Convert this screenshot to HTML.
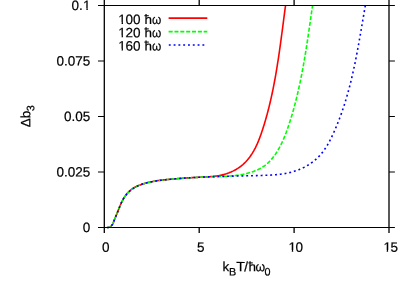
<!DOCTYPE html>
<html><head><meta charset="utf-8"><title>plot</title>
<style>
html,body{margin:0;padding:0;background:#fff;}
body{width:415px;height:290px;overflow:hidden;font-family:"Liberation Sans",sans-serif;}
svg{display:block;will-change:transform;}
text{font-family:"Liberation Sans",sans-serif;font-size:13.5px;fill:#000;stroke:#000;stroke-width:0.2px;}
</style></head><body>
<svg width="415" height="290" viewBox="0 0 415 290">
<rect width="415" height="290" fill="#fff"/>
<defs><clipPath id="plotclip"><rect x="104" y="5.5" width="285" height="223.5"/></clipPath></defs>
<g fill="none" stroke-width="1.6" stroke-linejoin="round" clip-path="url(#plotclip)">
<path d="M106.85,227.57 L107.94,227.51 L108.96,227.29 L109.88,226.92 L110.70,226.41 L111.42,225.77 L112.05,225.03 L112.58,224.21 L113.03,223.33 L113.42,222.40 L113.78,221.45 L114.13,220.49 L114.50,219.55 L114.88,218.61 L115.26,217.69 L115.65,216.77 L116.04,215.85 L116.42,214.93 L116.80,214.01 L117.17,213.09 L117.54,212.16 L117.90,211.23 L118.27,210.30 L118.63,209.37 L119.00,208.44 L119.37,207.51 L119.74,206.59 L120.13,205.67 L120.52,204.75 L120.92,203.84 L121.34,202.93 L121.77,202.03 L122.21,201.13 L122.68,200.25 L123.16,199.37 L123.66,198.50 L124.18,197.65 L124.73,196.80 L125.30,195.97 L125.89,195.15 L126.51,194.35 L127.15,193.57 L127.81,192.82 L128.50,192.08 L129.21,191.38 L129.95,190.70 L130.71,190.05 L131.49,189.43 L132.30,188.85 L133.13,188.30 L133.98,187.79 L134.86,187.30 L135.75,186.84 L136.65,186.41 L137.57,186.00 L138.49,185.62 L139.42,185.25 L140.36,184.90 L141.31,184.56 L142.25,184.23 L143.20,183.92 L144.16,183.63 L145.11,183.34 L146.07,183.07 L147.04,182.82 L148.00,182.57 L148.97,182.33 L149.94,182.11 L150.92,181.90 L151.90,181.69 L152.87,181.50 L153.86,181.31 L154.84,181.14 L155.82,180.97 L156.81,180.81 L157.80,180.66 L158.79,180.52 L159.78,180.38 L160.77,180.25 L161.77,180.12 L162.76,180.01 L163.76,179.89 L164.76,179.78 L165.75,179.68 L166.75,179.58 L167.75,179.48 L168.75,179.39 L169.75,179.29 L170.74,179.21 L171.74,179.12 L172.74,179.03 L173.74,178.95 L174.73,178.87 L175.73,178.78 L176.73,178.70 L177.72,178.63 L178.72,178.55 L179.72,178.47 L180.71,178.40 L181.71,178.33 L182.70,178.25 L183.70,178.18 L184.70,178.12 L185.69,178.05 L186.69,177.98 L187.68,177.92 L188.68,177.85 L189.68,177.79 L190.67,177.73 L191.67,177.67 L192.67,177.62 L193.67,177.56 L194.66,177.51 L195.66,177.45 L196.66,177.40 L197.66,177.35 L198.66,177.30 L199.66,177.25 L200.66,177.21 L201.66,177.16 L202.66,177.12 L203.66,177.07 L204.67,177.02 L205.67,176.97 L206.67,176.92 L207.67,176.86 L208.67,176.80 L209.67,176.73 L210.67,176.65 L211.66,176.57 L212.66,176.47 L213.65,176.37 L214.64,176.26 L215.63,176.13 L216.62,176.00 L217.61,175.85 L218.59,175.68 L219.58,175.50 L220.55,175.31 L221.53,175.10 L222.50,174.87 L223.48,174.62 L224.44,174.36 L225.41,174.07 L226.36,173.77 L227.32,173.44 L228.27,173.10 L229.21,172.74 L230.14,172.36 L231.07,171.97 L231.99,171.55 L232.90,171.12 L233.80,170.66 L234.69,170.19 L235.58,169.70 L236.45,169.20 L237.30,168.67 L238.15,168.13 L238.98,167.57 L239.80,167.00 L240.61,166.40 L241.40,165.79 L242.18,165.16 L242.94,164.52 L243.68,163.85 L244.40,163.17 L245.11,162.48 L245.81,161.77 L246.48,161.04 L247.15,160.30 L247.79,159.54 L248.42,158.77 L249.04,157.99 L249.64,157.20 L250.22,156.39 L250.79,155.57 L251.35,154.75 L251.90,153.91 L252.43,153.06 L252.95,152.20 L253.45,151.34 L253.95,150.47 L254.43,149.59 L254.90,148.70 L255.36,147.81 L255.80,146.91 L256.24,146.01 L256.66,145.11 L257.08,144.19 L257.49,143.28 L257.88,142.36 L258.27,141.44 L258.65,140.51 L259.02,139.58 L259.38,138.65 L259.74,137.72 L260.09,136.78 L260.43,135.84 L260.77,134.90 L261.10,133.95 L261.43,133.01 L261.75,132.06 L262.07,131.11 L262.38,130.16 L262.69,129.21 L263.00,128.26 L263.31,127.30 L263.61,126.35 L263.90,125.40 L264.20,124.44 L264.49,123.48 L264.78,122.53 L265.06,121.57 L265.34,120.61 L265.62,119.65 L265.90,118.69 L266.17,117.73 L266.44,116.77 L266.71,115.81 L266.97,114.84 L267.24,113.88 L267.49,112.91 L267.75,111.95 L268.00,110.98 L268.25,110.02 L268.50,109.05 L268.75,108.08 L268.99,107.11 L269.23,106.14 L269.47,105.17 L269.70,104.20 L269.93,103.23 L270.16,102.26 L270.39,101.29 L270.62,100.31 L270.84,99.34 L271.06,98.37 L271.28,97.39 L271.49,96.41 L271.71,95.44 L271.92,94.46 L272.13,93.49 L272.33,92.51 L272.54,91.53 L272.74,90.55 L272.94,89.57 L273.14,88.59 L273.34,87.61 L273.53,86.63 L273.72,85.65 L273.91,84.67 L274.10,83.69 L274.29,82.71 L274.47,81.72 L274.66,80.74 L274.84,79.76 L275.02,78.77 L275.20,77.79 L275.37,76.80 L275.55,75.82 L275.72,74.83 L275.89,73.85 L276.06,72.86 L276.23,71.87 L276.39,70.89 L276.56,69.90 L276.72,68.91 L276.88,67.93 L277.05,66.94 L277.21,65.95 L277.36,64.96 L277.52,63.97 L277.68,62.98 L277.83,61.99 L277.98,61.00 L278.13,60.01 L278.29,59.03 L278.44,58.04 L278.58,57.04 L278.73,56.05 L278.88,55.06 L279.02,54.07 L279.17,53.08 L279.31,52.09 L279.45,51.10 L279.59,50.11 L279.74,49.12 L279.88,48.13 L280.01,47.13 L280.15,46.14 L280.29,45.15 L280.43,44.16 L280.56,43.17 L280.70,42.17 L280.83,41.18 L280.97,40.19 L281.10,39.20 L281.24,38.21 L281.37,37.21 L281.50,36.22 L281.63,35.23 L281.76,34.24 L281.90,33.25 L282.03,32.25 L282.16,31.26 L282.29,30.27 L282.42,29.28 L282.55,28.29 L282.68,27.29 L282.81,26.30 L282.94,25.31 L283.06,24.32 L283.19,23.33 L283.32,22.34 L283.45,21.35 L283.58,20.36 L283.71,19.37 L283.84,18.38 L283.97,17.39 L284.10,16.40 L284.23,15.41 L284.36,14.42 L284.49,13.43 L284.62,12.44 L284.75,11.45 L284.88,10.46 L285.01,9.47 L285.14,8.48 L285.27,7.50 L285.40,6.51 L285.54,5.52 L285.67,4.53 L285.80,3.55 L285.94,2.56 L286.07,1.57 L286.15,1.03" stroke="#ff0000"/>
<path d="M106.84,227.56 L107.94,227.51 L108.96,227.30 L109.90,226.94 L110.73,226.43 L111.44,225.78 L112.02,225.02 L112.51,224.17 L112.95,223.27 L113.36,222.35 L113.77,221.43 L114.17,220.51 L114.56,219.58 L114.94,218.65 L115.32,217.73 L115.69,216.80 L116.06,215.87 L116.43,214.94 L116.79,214.01 L117.15,213.08 L117.52,212.15 L117.88,211.22 L118.24,210.29 L118.61,209.36 L118.98,208.43 L119.35,207.51 L119.74,206.58 L120.13,205.66 L120.53,204.74 L120.94,203.83 L121.36,202.91 L121.79,202.01 L122.24,201.11 L122.71,200.22 L123.19,199.35 L123.69,198.48 L124.21,197.63 L124.75,196.79 L125.31,195.96 L125.89,195.16 L126.50,194.37 L127.14,193.60 L127.80,192.86 L128.49,192.14 L129.20,191.44 L129.94,190.76 L130.71,190.11 L131.50,189.49 L132.31,188.89 L133.14,188.32 L133.99,187.78 L134.86,187.27 L135.74,186.79 L136.63,186.34 L137.54,185.92 L138.46,185.53 L139.40,185.16 L140.33,184.82 L141.28,184.50 L142.24,184.19 L143.19,183.90 L144.15,183.62 L145.12,183.35 L146.08,183.09 L147.05,182.85 L148.02,182.61 L148.99,182.38 L149.97,182.16 L150.94,181.95 L151.92,181.75 L152.90,181.55 L153.88,181.36 L154.86,181.19 L155.84,181.01 L156.83,180.85 L157.81,180.69 L158.80,180.54 L159.79,180.40 L160.78,180.26 L161.77,180.13 L162.76,180.00 L163.75,179.88 L164.75,179.77 L165.74,179.66 L166.74,179.55 L167.73,179.45 L168.73,179.35 L169.73,179.26 L170.72,179.17 L171.72,179.08 L172.72,178.99 L173.72,178.91 L174.72,178.83 L175.71,178.76 L176.71,178.68 L177.71,178.61 L178.71,178.54 L179.71,178.47 L180.71,178.40 L181.71,178.33 L182.71,178.26 L183.70,178.19 L184.70,178.13 L185.70,178.06 L186.70,178.00 L187.70,177.93 L188.69,177.87 L189.69,177.81 L190.69,177.75 L191.69,177.69 L192.68,177.63 L193.68,177.57 L194.68,177.52 L195.68,177.46 L196.67,177.41 L197.67,177.36 L198.67,177.31 L199.67,177.26 L200.66,177.21 L201.66,177.16 L202.66,177.12 L203.66,177.07 L204.66,177.03 L205.66,176.99 L206.65,176.95 L207.65,176.91 L208.65,176.87 L209.65,176.83 L210.65,176.80 L211.65,176.77 L212.65,176.73 L213.65,176.70 L214.65,176.67 L215.65,176.65 L216.65,176.62 L217.65,176.59 L218.65,176.56 L219.66,176.53 L220.66,176.49 L221.66,176.46 L222.66,176.42 L223.66,176.38 L224.66,176.33 L225.66,176.29 L226.65,176.23 L227.65,176.18 L228.65,176.11 L229.65,176.04 L230.64,175.97 L231.64,175.89 L232.63,175.80 L233.63,175.71 L234.62,175.60 L235.61,175.49 L236.61,175.37 L237.60,175.24 L238.59,175.10 L239.57,174.95 L240.56,174.79 L241.55,174.62 L242.53,174.44 L243.51,174.25 L244.50,174.04 L245.48,173.83 L246.46,173.60 L247.43,173.35 L248.41,173.09 L249.38,172.82 L250.34,172.53 L251.31,172.23 L252.26,171.92 L253.21,171.58 L254.16,171.23 L255.09,170.87 L256.02,170.49 L256.94,170.09 L257.84,169.67 L258.74,169.23 L259.63,168.78 L260.50,168.31 L261.36,167.82 L262.21,167.31 L263.05,166.78 L263.87,166.23 L264.67,165.66 L265.46,165.07 L266.23,164.45 L266.99,163.82 L267.73,163.17 L268.46,162.50 L269.16,161.81 L269.86,161.10 L270.54,160.38 L271.21,159.64 L271.86,158.89 L272.50,158.12 L273.12,157.34 L273.73,156.55 L274.33,155.74 L274.91,154.92 L275.49,154.10 L276.05,153.26 L276.59,152.41 L277.13,151.55 L277.66,150.69 L278.17,149.82 L278.67,148.94 L279.16,148.06 L279.65,147.17 L280.12,146.27 L280.58,145.38 L281.03,144.48 L281.47,143.57 L281.91,142.67 L282.33,141.76 L282.75,140.84 L283.16,139.93 L283.56,139.01 L283.95,138.09 L284.34,137.17 L284.72,136.24 L285.09,135.31 L285.45,134.38 L285.81,133.45 L286.17,132.52 L286.51,131.58 L286.86,130.64 L287.19,129.70 L287.52,128.76 L287.85,127.82 L288.18,126.87 L288.50,125.93 L288.81,124.98 L289.12,124.03 L289.43,123.08 L289.74,122.13 L290.04,121.18 L290.34,120.23 L290.64,119.28 L290.93,118.33 L291.23,117.37 L291.52,116.42 L291.80,115.46 L292.09,114.51 L292.37,113.55 L292.64,112.59 L292.92,111.63 L293.19,110.67 L293.46,109.71 L293.73,108.75 L293.99,107.79 L294.26,106.82 L294.51,105.86 L294.77,104.90 L295.03,103.93 L295.28,102.96 L295.53,102.00 L295.78,101.03 L296.02,100.06 L296.26,99.09 L296.50,98.13 L296.74,97.16 L296.98,96.19 L297.21,95.21 L297.44,94.24 L297.67,93.27 L297.90,92.30 L298.12,91.32 L298.34,90.35 L298.57,89.38 L298.78,88.40 L299.00,87.42 L299.21,86.45 L299.43,85.47 L299.64,84.49 L299.85,83.52 L300.05,82.54 L300.26,81.56 L300.46,80.58 L300.66,79.60 L300.86,78.62 L301.06,77.64 L301.26,76.66 L301.45,75.68 L301.64,74.69 L301.83,73.71 L302.02,72.73 L302.21,71.75 L302.40,70.76 L302.58,69.78 L302.76,68.80 L302.94,67.81 L303.12,66.83 L303.30,65.84 L303.48,64.86 L303.66,63.87 L303.83,62.88 L304.00,61.90 L304.18,60.91 L304.35,59.92 L304.51,58.94 L304.68,57.95 L304.85,56.96 L305.02,55.97 L305.18,54.99 L305.34,54.00 L305.51,53.01 L305.67,52.02 L305.83,51.03 L305.99,50.04 L306.14,49.05 L306.30,48.06 L306.46,47.08 L306.61,46.09 L306.77,45.10 L306.92,44.11 L307.07,43.12 L307.23,42.13 L307.38,41.14 L307.53,40.15 L307.68,39.16 L307.83,38.17 L307.97,37.18 L308.12,36.19 L308.27,35.20 L308.42,34.21 L308.56,33.22 L308.71,32.23 L308.85,31.24 L309.00,30.25 L309.14,29.26 L309.28,28.27 L309.43,27.28 L309.57,26.29 L309.71,25.30 L309.85,24.31 L310.00,23.32 L310.14,22.33 L310.28,21.34 L310.42,20.35 L310.56,19.36 L310.70,18.38 L310.84,17.39 L310.98,16.40 L311.12,15.41 L311.26,14.42 L311.40,13.44 L311.54,12.45 L311.68,11.46 L311.82,10.47 L311.96,9.49 L312.10,8.50 L312.25,7.51 L312.39,6.53 L312.53,5.54 L312.67,4.56 L312.81,3.57 L312.95,2.59 L313.09,1.60 L313.17,1.04" stroke="#00ff00" stroke-dasharray="4.05 1.8"/>
<path d="M106.83,227.57 L107.96,227.52 L108.99,227.29 L109.91,226.92 L110.72,226.40 L111.42,225.77 L112.02,225.03 L112.54,224.21 L112.99,223.33 L113.40,222.40 L113.78,221.45 L114.14,220.49 L114.51,219.54 L114.89,218.61 L115.27,217.68 L115.66,216.76 L116.04,215.85 L116.43,214.94 L116.81,214.03 L117.19,213.11 L117.56,212.19 L117.92,211.26 L118.28,210.33 L118.64,209.39 L119.00,208.45 L119.37,207.51 L119.73,206.57 L120.11,205.63 L120.49,204.70 L120.88,203.77 L121.29,202.85 L121.71,201.94 L122.15,201.04 L122.61,200.15 L123.09,199.27 L123.60,198.41 L124.13,197.57 L124.68,196.74 L125.27,195.93 L125.88,195.14 L126.51,194.37 L127.17,193.61 L127.85,192.88 L128.55,192.17 L129.28,191.49 L130.02,190.82 L130.79,190.18 L131.57,189.56 L132.38,188.97 L133.20,188.40 L134.03,187.85 L134.89,187.34 L135.75,186.85 L136.64,186.38 L137.53,185.95 L138.44,185.53 L139.36,185.15 L140.29,184.78 L141.23,184.44 L142.18,184.12 L143.13,183.81 L144.09,183.53 L145.06,183.25 L146.03,183.00 L147.01,182.75 L147.98,182.52 L148.96,182.30 L149.94,182.09 L150.93,181.89 L151.91,181.69 L152.89,181.51 L153.88,181.34 L154.87,181.17 L155.85,181.01 L156.84,180.86 L157.83,180.71 L158.82,180.57 L159.81,180.44 L160.81,180.31 L161.80,180.19 L162.79,180.07 L163.78,179.95 L164.78,179.84 L165.77,179.74 L166.77,179.63 L167.76,179.53 L168.76,179.43 L169.75,179.34 L170.75,179.24 L171.74,179.15 L172.74,179.06 L173.74,178.97 L174.73,178.88 L175.73,178.80 L176.72,178.71 L177.72,178.63 L178.72,178.55 L179.71,178.47 L180.71,178.40 L181.70,178.32 L182.70,178.25 L183.70,178.18 L184.70,178.11 L185.69,178.04 L186.69,177.97 L187.69,177.91 L188.68,177.84 L189.68,177.78 L190.68,177.72 L191.68,177.66 L192.67,177.61 L193.67,177.55 L194.67,177.49 L195.67,177.44 L196.67,177.39 L197.66,177.34 L198.66,177.29 L199.66,177.24 L200.66,177.19 L201.66,177.15 L202.66,177.10 L203.65,177.06 L204.65,177.01 L205.65,176.97 L206.65,176.93 L207.65,176.89 L208.65,176.85 L209.65,176.81 L210.65,176.78 L211.65,176.74 L212.65,176.71 L213.64,176.67 L214.64,176.64 L215.64,176.60 L216.64,176.57 L217.64,176.54 L218.64,176.51 L219.64,176.48 L220.64,176.45 L221.64,176.42 L222.64,176.39 L223.64,176.37 L224.64,176.34 L225.64,176.31 L226.64,176.29 L227.64,176.26 L228.64,176.23 L229.64,176.21 L230.64,176.18 L231.64,176.16 L232.64,176.14 L233.64,176.11 L234.64,176.09 L235.64,176.07 L236.64,176.04 L237.64,176.02 L238.64,176.00 L239.65,175.97 L240.65,175.95 L241.65,175.93 L242.65,175.91 L243.65,175.88 L244.65,175.86 L245.65,175.84 L246.65,175.82 L247.65,175.79 L248.65,175.77 L249.65,175.75 L250.65,175.72 L251.65,175.70 L252.65,175.68 L253.65,175.65 L254.66,175.63 L255.66,175.60 L256.66,175.58 L257.66,175.55 L258.66,175.53 L259.66,175.50 L260.66,175.47 L261.66,175.45 L262.66,175.42 L263.66,175.39 L264.66,175.35 L265.66,175.32 L266.66,175.28 L267.66,175.24 L268.66,175.20 L269.66,175.15 L270.65,175.09 L271.65,175.03 L272.64,174.97 L273.64,174.90 L274.63,174.83 L275.62,174.74 L276.61,174.65 L277.60,174.56 L278.59,174.45 L279.57,174.34 L280.56,174.22 L281.54,174.08 L282.52,173.94 L283.50,173.79 L284.47,173.63 L285.45,173.46 L286.42,173.27 L287.39,173.08 L288.36,172.87 L289.33,172.65 L290.29,172.42 L291.25,172.17 L292.21,171.91 L293.17,171.64 L294.12,171.35 L295.07,171.04 L296.02,170.72 L296.96,170.39 L297.90,170.04 L298.83,169.67 L299.76,169.29 L300.69,168.90 L301.61,168.49 L302.52,168.06 L303.43,167.62 L304.33,167.17 L305.22,166.70 L306.10,166.22 L306.98,165.72 L307.85,165.21 L308.71,164.68 L309.55,164.14 L310.39,163.59 L311.22,163.02 L312.04,162.44 L312.84,161.84 L313.64,161.23 L314.42,160.60 L315.19,159.96 L315.94,159.31 L316.68,158.64 L317.41,157.97 L318.13,157.27 L318.83,156.56 L319.51,155.84 L320.18,155.11 L320.83,154.37 L321.47,153.61 L322.10,152.84 L322.71,152.06 L323.31,151.26 L323.90,150.46 L324.47,149.65 L325.04,148.83 L325.59,147.99 L326.13,147.15 L326.66,146.31 L327.18,145.45 L327.69,144.59 L328.19,143.72 L328.68,142.84 L329.16,141.96 L329.63,141.07 L330.10,140.17 L330.56,139.27 L331.01,138.37 L331.45,137.47 L331.89,136.56 L332.32,135.64 L332.75,134.73 L333.17,133.81 L333.58,132.89 L333.99,131.97 L334.40,131.05 L334.81,130.13 L335.21,129.20 L335.60,128.28 L335.99,127.35 L336.38,126.43 L336.77,125.50 L337.15,124.58 L337.52,123.65 L337.89,122.72 L338.26,121.79 L338.63,120.86 L338.99,119.93 L339.35,118.99 L339.70,118.06 L340.05,117.13 L340.40,116.19 L340.74,115.25 L341.08,114.32 L341.42,113.38 L341.75,112.44 L342.08,111.50 L342.41,110.55 L342.73,109.61 L343.05,108.67 L343.37,107.72 L343.68,106.78 L343.99,105.83 L344.30,104.88 L344.60,103.93 L344.90,102.98 L345.20,102.03 L345.49,101.07 L345.78,100.12 L346.07,99.17 L346.36,98.21 L346.64,97.25 L346.92,96.30 L347.19,95.34 L347.47,94.38 L347.74,93.42 L348.01,92.46 L348.27,91.50 L348.53,90.53 L348.79,89.57 L349.05,88.61 L349.30,87.64 L349.56,86.68 L349.81,85.71 L350.05,84.74 L350.30,83.77 L350.54,82.80 L350.78,81.83 L351.02,80.86 L351.26,79.89 L351.49,78.92 L351.72,77.95 L351.95,76.98 L352.18,76.00 L352.40,75.03 L352.62,74.06 L352.85,73.08 L353.06,72.10 L353.28,71.13 L353.50,70.15 L353.71,69.17 L353.92,68.20 L354.13,67.22 L354.34,66.24 L354.55,65.26 L354.75,64.28 L354.95,63.30 L355.15,62.32 L355.35,61.34 L355.55,60.36 L355.75,59.38 L355.95,58.39 L356.14,57.41 L356.33,56.43 L356.52,55.45 L356.71,54.46 L356.90,53.48 L357.09,52.50 L357.28,51.51 L357.46,50.53 L357.64,49.54 L357.83,48.56 L358.01,47.57 L358.19,46.59 L358.37,45.60 L358.55,44.62 L358.73,43.63 L358.91,42.65 L359.08,41.66 L359.26,40.67 L359.43,39.69 L359.61,38.70 L359.78,37.72 L359.95,36.73 L360.13,35.75 L360.30,34.76 L360.47,33.77 L360.64,32.79 L360.81,31.80 L360.98,30.82 L361.15,29.83 L361.32,28.84 L361.49,27.86 L361.66,26.87 L361.82,25.89 L361.99,24.90 L362.16,23.92 L362.33,22.93 L362.50,21.95 L362.67,20.96 L362.83,19.98 L363.00,19.00 L363.17,18.01 L363.34,17.03 L363.51,16.05 L363.67,15.06 L363.84,14.08 L364.01,13.10 L364.18,12.12 L364.35,11.14 L364.52,10.15 L364.69,9.17 L364.86,8.19 L365.03,7.21 L365.20,6.23 L365.38,5.26 L365.55,4.28 L365.72,3.30 L365.90,2.32 L366.07,1.34 L366.12,1.06" stroke="#0000ff" stroke-dasharray="1.9 2.9" stroke-dashoffset="-0.5"/>
</g>
<g fill="none" stroke-width="1.6">
<path d="M168.6,18.1 H207.3" stroke="#ff0000"/>
<path d="M168.6,31.65 H207.3" stroke="#00ff00" stroke-dasharray="4.05 1.8"/>
<path d="M168.8,45.05 H205" stroke="#0000ff" stroke-dasharray="1.9 2.9"/>
</g>
<g fill="none" stroke="#000">
<path d="M104.3,0 V233.1 M389.0,0 V233.1 M199.20,227.5 v5.6 M199.20,5.5 V0 M294.10,227.5 v5.6 M294.10,5.5 V0" stroke-width="1.3"/>
<path d="M98.0,5.5 H394.9 M98.0,227.5 H394.9 M104.3,172.00 h-6.3 M389.0,172.00 h5.9 M104.3,116.50 h-6.3 M389.0,116.50 h5.9 M104.3,61.00 h-6.3 M389.0,61.00 h5.9" stroke-width="1.0"/>
</g>
<text transform="translate(82.69,232.00) rotate(0.03) scale(1,1.0)">0</text>
<text transform="translate(56.42,176.50) rotate(0.03) scale(1,1.0)">0.025</text>
<text transform="translate(63.93,121.00) rotate(0.03) scale(1,1.0)">0.05</text>
<text transform="translate(56.42,65.50) rotate(0.03) scale(1,1.0)">0.075</text>
<text transform="translate(71.43,10.00) rotate(0.03) scale(1,1.0)">0.</text>
<text transform="translate(83.09,10.00) rotate(0.03) scale(1,1.0)">1</text>
<text transform="translate(102.05,251.70) rotate(0.03) scale(1,1.0)">0</text>
<text transform="translate(196.95,251.70) rotate(0.03) scale(1,1.0)">5</text>
<text transform="translate(288.49,251.70) rotate(0.03) scale(1,1.0)">1</text>
<text transform="translate(295.60,251.70) rotate(0.03) scale(1,1.0)">0</text>
<text transform="translate(383.39,251.70) rotate(0.03) scale(1,1.0)">1</text>
<text transform="translate(390.50,251.70) rotate(0.03) scale(1,1.0)">5</text>
<text transform="translate(118.30,24.05) rotate(0.03) scale(1,1.0)">1</text>
<text transform="translate(125.41,24.05) rotate(0.03) scale(1,1.0)">00</text>
<text transform="translate(144.40,24.05) rotate(0.03) scale(1,1.0)">ħ</text>
<text transform="translate(152.10,24.05) rotate(0.03) scale(0.88,1.0)">ω</text>
<text transform="translate(118.30,37.30) rotate(0.03) scale(1,1.0)">1</text>
<text transform="translate(125.41,37.30) rotate(0.03) scale(1,1.0)">20</text>
<text transform="translate(144.40,37.30) rotate(0.03) scale(1,1.0)">ħ</text>
<text transform="translate(152.10,37.30) rotate(0.03) scale(0.88,1.0)">ω</text>
<text transform="translate(118.30,50.55) rotate(0.03) scale(1,1.0)">1</text>
<text transform="translate(125.41,50.55) rotate(0.03) scale(1,1.0)">60</text>
<text transform="translate(144.40,50.55) rotate(0.03) scale(1,1.0)">ħ</text>
<text transform="translate(152.10,50.55) rotate(0.03) scale(0.88,1.0)">ω</text>
<text transform="translate(222.60,271.30) rotate(0.03) scale(1,1.0)">k</text>
<text transform="translate(229.00,275.40) rotate(0.03) scale(1,1.0)" style="font-size:10.8px">B</text>
<text transform="translate(236.30,271.30) rotate(0.03) scale(1.06,1.0)">T</text>
<text transform="translate(244.30,271.30) rotate(0.03) scale(1,1.0)">/</text>
<text transform="translate(248.40,271.30) rotate(0.03) scale(1,1.0)">ħ</text>
<text transform="translate(255.60,271.30) rotate(0.03) scale(0.915,1.0)">ω</text>
<text transform="translate(264.50,275.40) rotate(0.03) scale(1,1.0)" style="font-size:10.8px">0</text>
<text transform="translate(30.30,127.30) rotate(-90.03) scale(1,1.0)">Δb</text>
<text transform="translate(34.30,111.30) rotate(-90.03) scale(1,1.0)" style="font-size:10.8px">3</text>
<g fill="#fff"><rect x="83.39" y="8.25" width="2.98" height="2.4"/><rect x="87.81" y="8.25" width="2.70" height="2.4"/><rect x="288.79" y="249.95" width="2.98" height="2.4"/><rect x="293.21" y="249.95" width="2.70" height="2.4"/><rect x="383.69" y="249.95" width="2.98" height="2.4"/><rect x="388.11" y="249.95" width="2.70" height="2.4"/><rect x="118.60" y="22.30" width="2.98" height="2.4"/><rect x="123.02" y="22.30" width="2.70" height="2.4"/><rect x="118.60" y="35.55" width="2.98" height="2.4"/><rect x="123.02" y="35.55" width="2.70" height="2.4"/><rect x="118.60" y="48.80" width="2.98" height="2.4"/><rect x="123.02" y="48.80" width="2.70" height="2.4"/></g>
</svg>
</body></html>
